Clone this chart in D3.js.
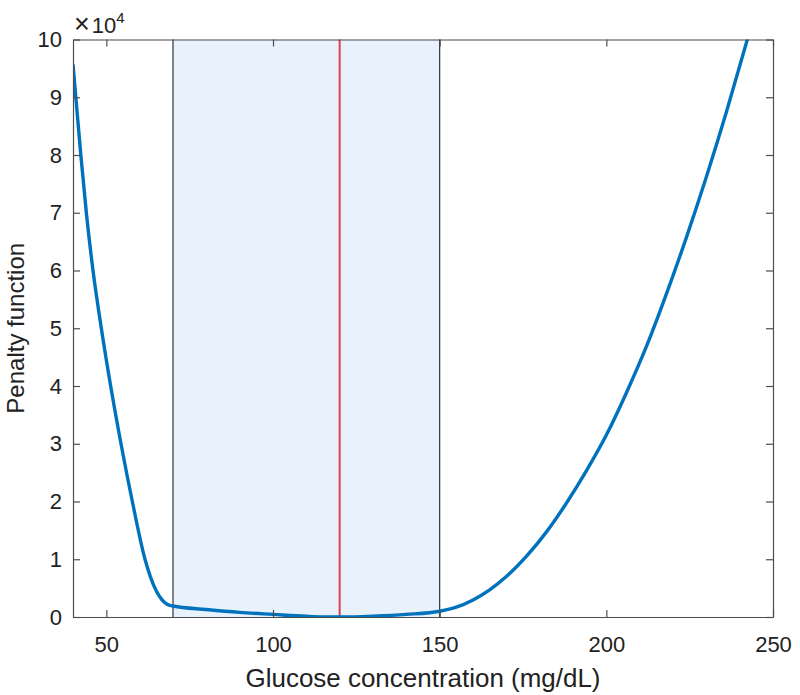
<!DOCTYPE html>
<html>
<head>
<meta charset="utf-8">
<script src="https://cdn.jsdelivr.net/npm/d3@7"></script>
<style>
  body { margin: 0; background: #fff; }
  text { font-family: "Liberation Sans", Arial, sans-serif; fill: #222; }
</style>
</head>
<body>
<svg id="chart" width="800" height="695"></svg>
<script>
// values
const glucose = [40, 40.85, 42.35, 44, 46, 48.5, 51.3, 54.4, 57.8, 61.6, 63.2, 65, 66.6, 68.1, 70,
  80, 90, 100, 110, 115, 120, 130, 140, 150,
  155, 160, 165, 170, 176, 182, 188, 194, 200, 206, 212, 218, 224, 230, 236, 242.3, 245];
const penalty = [95700, 90000, 80000, 70000, 60000, 50000, 40000, 30000, 20000, 10000, 7000, 4500, 3050, 2250, 1900,
  1300, 800, 450, 120, 20, 0, 150, 450, 1000,
  1700, 2950, 4700, 7000, 10500, 14700, 19700, 25300, 31500, 38800, 46800, 55900, 65700, 76200, 87400, 100000, 105600];
const xTicks = [50, 100, 150, 200, 250];
const yTicks = [0, 1, 2, 3, 4, 5, 6, 7, 8, 9, 10];   // x 10^4
const band = [70, 150];
const target = 120;

let svg = d3.select('#chart');
let margin = {top: 39.5, right: 27, bottom: 78, left: 73};
let width = 800 - margin.left - margin.right;
let height = 695 - margin.top - margin.bottom;

let x = d3.scaleLinear().domain([40, 250]).range([0, width]);
let y = d3.scaleLinear().domain([0, 100000]).range([height, 0]);

let g = svg.append('g')
    .attr('transform', 'translate(' + margin.left + ',' + margin.top + ')');

svg.append('defs').append('clipPath').attr('id', 'clip')
    .append('rect').attr('width', width).attr('height', height);

// shaded target band
g.append('rect')
    .attr('x', x(band[0]))
    .attr('y', 0)
    .attr('width', x(band[1]) - x(band[0]))
    .attr('height', height)
    .attr('fill', '#e8f2fd');

band.forEach(b => {
    g.append('line')
        .attr('x1', x(b)).attr('x2', x(b))
        .attr('y1', 0).attr('y2', height)
        .attr('stroke', '#333').attr('stroke-width', 1.2);
});

g.append('line')
    .attr('x1', x(target)).attr('x2', x(target))
    .attr('y1', 0).attr('y2', height)
    .attr('stroke', '#e0404a').attr('stroke-width', 2);

// curve
let pts = glucose.map((d, i) => [d, penalty[i]]);
g.append('path')
    .datum(pts)
    .attr('clip-path', 'url(#clip)')
    .attr('fill', 'none')
    .attr('stroke', '#0072bd')
    .attr('stroke-width', 3.4)
    .attr('d', d3.line()
        .x(d => x(d[0]))
        .y(d => y(d[1]))
        .curve(d3.curveMonotoneX));

// axes, MATLAB style box with inward ticks
let tickLen = 7;
let axisColor = '#4d4d4d';

g.append('g').attr('transform', 'translate(0,' + height + ')')
    .call(d3.axisBottom(x).tickValues(xTicks).tickSizeInner(-tickLen).tickSizeOuter(0).tickPadding(19));
g.append('g')
    .call(d3.axisLeft(y).tickValues(yTicks.map(v => v * 10000)).tickFormat(v => v / 10000)
        .tickSizeInner(-tickLen).tickSizeOuter(0).tickPadding(11));
g.append('g')
    .call(d3.axisTop(x).tickValues(xTicks).tickSizeInner(-tickLen).tickSizeOuter(0).tickFormat(''));
g.append('g').attr('transform', 'translate(' + width + ',0)')
    .call(d3.axisRight(y).tickValues(yTicks.map(v => v * 10000)).tickSizeInner(-tickLen).tickSizeOuter(0).tickFormat(''));

g.selectAll('.domain, .tick line').attr('stroke', axisColor).attr('stroke-width', 1.2);
g.selectAll('.tick text')
    .attr('font-size', '22px')
    .attr('font-family', '"Liberation Sans", Arial, sans-serif')
    .attr('fill', '#222');

// exponent label
let expo = svg.append('text')
    .attr('x', 74).attr('y', 33)
    .attr('font-size', '22px');
expo.append('tspan').attr('font-size', '27px').text('\u00d7');
expo.append('tspan').attr('dx', 2).text('10');
expo.append('tspan').attr('dy', -10).attr('font-size', '15px').text('4');

// axis titles
svg.append('text')
    .attr('x', margin.left + width / 2)
    .attr('y', 687)
    .attr('text-anchor', 'middle')
    .attr('font-size', '25px')
    .attr('textLength', 355)
    .attr('lengthAdjust', 'spacingAndGlyphs')
    .text('Glucose concentration (mg/dL)');

svg.append('text')
    .attr('transform', 'translate(24,' + (margin.top + height / 2) + ') rotate(-90)')
    .attr('text-anchor', 'middle')
    .attr('font-size', '24px')
    .text('Penalty function');
</script>
</body>
</html>
